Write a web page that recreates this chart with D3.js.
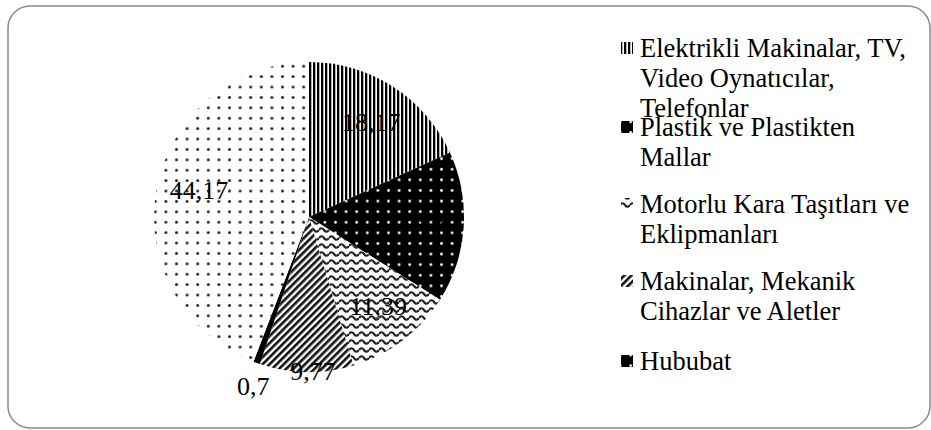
<!DOCTYPE html>
<html><head><meta charset="utf-8">
<script src="https://cdn.jsdelivr.net/npm/d3@7"></script>
<style>body{margin:0;background:#fff}svg{display:block}</style>
</head><body>
<svg id="c" width="931" height="430"></svg>
<script>
// ---- data ----
const categories = ["Elektrikli Makinalar, TV, Video Oynatıcılar, Telefonlar","Plastik ve Plastikten Mallar","Motorlu Kara Taşıtları ve Eklipmanları","Makinalar, Mekanik Cihazlar ve Aletler","Hububat","Diğer"];
const values = [18.17, 15.8, 11.39, 9.77, 0.7, 44.17];
const valueLabels = ["18,17","15,8","11,39","9,77","0,7","44,17"];
const legendLines = [
  ["Elektrikli Makinalar, TV,","Video Oynatıcılar,","Telefonlar"],
  ["Plastik ve Plastikten","Mallar"],
  ["Motorlu Kara Taşıtları ve","Eklipmanları"],
  ["Makinalar, Mekanik","Cihazlar ve Aletler"],
  ["Hububat"]
];

// ---- layout / style ----
const FONT = '"Liberation Serif"';
const fills = ["url(#pVert)","url(#pBlackDots)","url(#pWave)","url(#pDiag)","#000","url(#pLightDots)"];
const legendFills = ["url(#pVert)","url(#pBlackDots)","url(#pWave)","url(#pDiag)","url(#pBlackDots)"];
const labelPlace = [[0.73,0.7],[0.73,-1.4],[0.73,-0.6],[1.0,-2.4],[1.15,-1.5],[0.73,3]]; // [radius factor, angle shift deg]
const cx = 309, cy = 217, R = 155;

const svg = d3.select("#c");
const defs = svg.append("defs");

// patterns
let p = defs.append("pattern").attr("id","pVert").attr("patternUnits","userSpaceOnUse").attr("width",4).attr("height",4);
p.append("rect").attr("width",4).attr("height",4).attr("fill","#fff");
p.append("rect").attr("width",2.3).attr("height",4).attr("fill","#000");

p = defs.append("pattern").attr("id","pBlackDots").attr("patternUnits","userSpaceOnUse").attr("width",10.6).attr("height",10.6);
p.append("rect").attr("width",10.6).attr("height",10.6).attr("fill","#000");
p.append("circle").attr("cx",5.3).attr("cy",5.3).attr("r",1.4).attr("fill","#fff");

p = defs.append("pattern").attr("id","pLightDots").attr("patternUnits","userSpaceOnUse").attr("width",10.6).attr("height",10.4);
p.append("rect").attr("width",10.6).attr("height",10.4).attr("fill","#fff");
p.append("circle").attr("cx",5.3).attr("cy",5.2).attr("r",1.5).attr("fill","#222");

p = defs.append("pattern").attr("id","pWave").attr("patternUnits","userSpaceOnUse").attr("width",10).attr("height",8);
p.append("rect").attr("width",10).attr("height",8).attr("fill","#fff");
p.append("path").attr("d","M0,5 Q2.5,1.5 5,5 T10,5").attr("fill","none").attr("stroke","#222").attr("stroke-width",2.2);

p = defs.append("pattern").attr("id","pDiag").attr("patternUnits","userSpaceOnUse").attr("width",5).attr("height",5).attr("patternTransform","rotate(45)");
p.append("rect").attr("width",5).attr("height",5).attr("fill","#fff");
p.append("rect").attr("width",2.6).attr("height",5).attr("fill","#111");

// border
svg.append("rect").attr("x",8).attr("y",6).attr("width",922).attr("height",422)
  .attr("rx",22).attr("fill","#fff").attr("stroke","#8a8a8a").attr("stroke-width",1.5);

// pie
const pie = d3.pie().sort(null).value(d=>d);
const arcs = pie(values);
const arc = d3.arc().innerRadius(0).outerRadius(R);
const g = svg.append("g").attr("transform",`translate(${cx},${cy})`);
g.selectAll("path.s").data(arcs).join("path").attr("class","s")
  .attr("d",arc).attr("fill",(d,i)=>fills[i]);

g.selectAll("text.l").data(arcs).join("text").attr("class","l")
  .attr("x",(d,i)=>{const a=(d.startAngle+d.endAngle)/2+labelPlace[i][1]*Math.PI/180;return Math.sin(a)*R*labelPlace[i][0];})
  .attr("y",(d,i)=>{const a=(d.startAngle+d.endAngle)/2+labelPlace[i][1]*Math.PI/180;return -Math.cos(a)*R*labelPlace[i][0];})
  .attr("text-anchor","middle").attr("dominant-baseline","central")
  .style("font-family",FONT).style("font-size","26px")
  .attr("fill","#000")
  .text((d,i)=>valueLabels[i]);

// legend
const entryY = [57,136,213,290,370];
const lg = svg.append("g");
legendLines.forEach((lines,i)=>{
  lg.append("rect").attr("x",621).attr("y",entryY[i]-15).attr("width",12).attr("height",12).attr("fill",legendFills[i]);
  const t = lg.append("text").style("font-family",FONT).style("font-size","26.5px").attr("fill","#000");
  lines.forEach((ln,j)=>{
    t.append("tspan").attr("x",640).attr("y",entryY[i]+j*30).text(ln);
  });
});
</script>
</body></html>
